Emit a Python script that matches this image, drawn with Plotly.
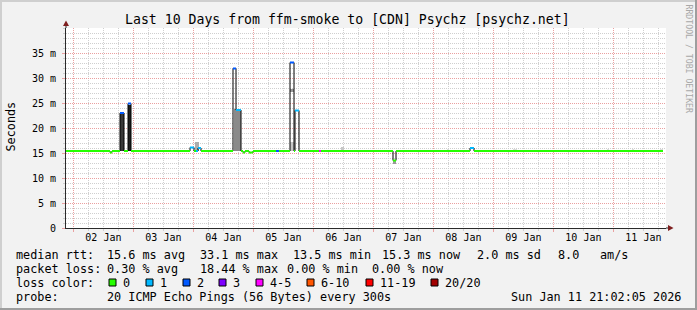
import plotly.graph_objects as go
import pandas as pd

# ---------------- data ----------------
loss_labels = ["0", "1", "2", "3", "4-5", "6-10", "11-19", "20/20"]
loss_colors = ["#26ff00", "#00b8ff", "#0059ff", "#7e00ff", "#ff00ff", "#ff5500", "#ff0000", "#a10000"]

# median RTT as steps: start time, value (ms), loss class index
med_time = ["2026-01-01 21:02", "2026-01-02 14:38", "2026-01-02 15:26", "2026-01-02 18:38",
            "2026-01-02 20:14", "2026-01-02 21:50", "2026-01-02 23:02", "2026-01-03 22:38",
            "2026-01-04 00:14", "2026-01-04 01:02", "2026-01-04 01:50", "2026-01-04 03:02",
            "2026-01-04 15:50", "2026-01-04 17:02", "2026-01-04 19:02", "2026-01-04 19:50",
            "2026-01-04 20:38", "2026-01-04 22:14", "2026-01-04 23:50", "2026-01-05 09:02",
            "2026-01-05 10:14", "2026-01-05 14:38", "2026-01-05 16:14", "2026-01-05 16:38",
            "2026-01-05 18:14", "2026-01-06 02:14", "2026-01-06 03:02", "2026-01-07 07:50",
            "2026-01-07 09:02", "2026-01-08 14:38", "2026-01-08 16:14"]
med_ms = [15.4, 15.1, 15.4, 23.0,
          15.4, 24.9, 15.4, 16.1,
          15.4, 15.4, 16.0, 15.4,
          31.9, 23.6, 15.4, 15.1,
          15.4, 15.1, 15.4, 15.4,
          15.4, 33.1, 15.4, 23.5,
          15.4, 15.4, 15.4, 13.5,
          15.4, 16.0, 15.4]
med_loss = [0, 0, 0, 2,
            0, 2, 0, 1,
            0, 1, 1, 0,
            2, 1, 0, 0,
            0, 0, 0, 2,
            0, 2, 0, 1,
            0, 4, 0, 0,
            0, 1, 0]
med_end = "2026-01-11 19:50"

# smoke (spread of individual pings)
smoke_start = ["2026-01-02 18:38", "2026-01-02 21:50", "2026-01-04 00:38", "2026-01-04 16:14",
               "2026-01-05 14:38", "2026-01-05 14:38", "2026-01-06 11:02", "2026-01-07 07:50",
               "2026-01-08 05:26", "2026-01-09 07:50", "2026-01-10 21:26", "2026-01-11 07:26",
               "2026-01-11 18:38"]
smoke_end = ["2026-01-02 20:14", "2026-01-02 23:02", "2026-01-04 02:14", "2026-01-04 19:02",
             "2026-01-05 16:14", "2026-01-05 16:14", "2026-01-06 12:14", "2026-01-07 09:02",
             "2026-01-08 06:14", "2026-01-09 09:26", "2026-01-10 22:14", "2026-01-11 08:14",
             "2026-01-11 19:50"]
smoke_lo = [15.4, 15.4, 15.4, 15.4, 15.4, 27.3, 15.4, 12.9, 15.4, 15.4, 15.4, 15.4, 15.4]
smoke_hi = [22.8, 24.6, 17.3, 23.9, 17.2, 27.8, 16.3, 13.6, 15.9, 15.9, 15.9, 15.9, 15.9]
smoke_density = [0.78, 0.88, 0.32, 0.46, 0.22, 0.4, 0.22, 0.4, 0.14, 0.14, 0.14, 0.14, 0.14]

ytick_ms = [0, 5, 10, 15, 20, 25, 30, 35]

x_start = "2026-01-01 21:02:05"
x_stop = "2026-01-11 21:02:05"

title = "Last 10 Days from ffm-smoke to [CDN] Psychz [psychz.net]"
row_rtt = ["median rtt:", "15.6 ms avg", "33.1 ms max", "13.5 ms min", "15.3 ms now", "2.0 ms sd", "8.0", "am/s"]
row_loss = ["packet loss:", "0.30 % avg", "18.44 % max", "0.00 % min", "0.00 % now"]
row_probe = ["probe:", "20 ICMP Echo Pings (56 Bytes) every 300s"]
stamp = "Sun Jan 11 21:02:05 2026"

# ---------------- layout helpers ----------------
L, T, W, H = 66, 28, 600, 200
FIG_W, FIG_H = 697, 310
def xp(px):
    return (px - L) / W
def yp(py):
    return (T + H - py) / H

MONO = "DejaVu Sans Mono"
GRID = "#cfcfcf"
MGRID = "#eaa0a0"
AXIS = "#2a2a2a"
ARROW = "#7f1f1f"

fig = go.Figure()

# smoke
s0 = pd.to_datetime(smoke_start)
s1 = pd.to_datetime(smoke_end)
centers = s0 + (s1 - s0) / 2
widths = [(b - a).total_seconds() * 1000 for a, b in zip(s0, s1)]
def gray(d):
    v = int(round(255 * (1 - d)))
    return f"rgb({v},{v},{v})"
fig.add_trace(go.Bar(
    x=centers, y=[h - l for l, h in zip(smoke_lo, smoke_hi)], base=smoke_lo,
    width=widths, marker=dict(color=[gray(d) for d in smoke_density], line=dict(width=0)),
    hoverinfo="skip", showlegend=False))

# black median step line (vertical transitions)
mt = pd.to_datetime(med_time + [med_end])
fig.add_trace(go.Scatter(
    x=mt, y=med_ms + [med_ms[-1]], mode="lines", line=dict(shape="hv", color="#000000", width=1),
    hoverinfo="skip", showlegend=False))

# loss-coloured median segments
for c in range(len(loss_colors)):
    xs, ys = [], []
    for i in range(len(med_ms)):
        if med_loss[i] == c:
            xs += [mt[i], mt[i + 1], None]
            ys += [med_ms[i], med_ms[i], None]
    if xs:
        fig.add_trace(go.Scatter(x=xs, y=ys, mode="lines",
                                 line=dict(color=loss_colors[c], width=2),
                                 hoverinfo="skip", showlegend=False))

shapes = []
# frame shading
shapes.append(dict(type="rect", xref="paper", yref="paper", x0=xp(0), x1=xp(FIG_W), y0=yp(2), y1=yp(0),
                   fillcolor="#cfcfcf", line=dict(width=0), layer="above"))
shapes.append(dict(type="rect", xref="paper", yref="paper", x0=xp(0), x1=xp(2), y0=yp(FIG_H), y1=yp(0),
                   fillcolor="#cfcfcf", line=dict(width=0), layer="above"))
shapes.append(dict(type="rect", xref="paper", yref="paper", x0=xp(0), x1=xp(FIG_W), y0=yp(FIG_H), y1=yp(FIG_H - 2),
                   fillcolor="#9e9e9e", line=dict(width=0), layer="above"))
shapes.append(dict(type="rect", xref="paper", yref="paper", x0=xp(FIG_W - 2), x1=xp(FIG_W), y0=yp(FIG_H), y1=yp(0),
                   fillcolor="#9e9e9e", line=dict(width=0), layer="above"))
# axis extensions and arrows
shapes.append(dict(type="line", xref="paper", yref="paper", x0=xp(66), x1=xp(66), y0=yp(28), y1=yp(23),
                   line=dict(color=AXIS, width=1)))
shapes.append(dict(type="line", xref="paper", yref="paper", x0=xp(666), x1=xp(670), y0=yp(228), y1=yp(228),
                   line=dict(color=AXIS, width=1)))
shapes.append(dict(type="path", xref="paper", yref="paper",
                   path=f"M {xp(66)},{yp(20.5)} L {xp(63)},{yp(26)} L {xp(69)},{yp(26)} Z",
                   fillcolor=ARROW, line=dict(width=0)))
shapes.append(dict(type="path", xref="paper", yref="paper",
                   path=f"M {xp(673.5)},{yp(228)} L {xp(668)},{yp(225)} L {xp(668)},{yp(231)} Z",
                   fillcolor=ARROW, line=dict(width=0)))

annotations = []
def txt(s, px, py, size=11.8, anchor="left", color="#000000", angle=0):
    annotations.append(dict(text=s.replace(" ", "\u00a0"), x=xp(px), y=yp(py), xref="paper", yref="paper",
                            xanchor=anchor, yanchor="middle", showarrow=False, textangle=angle,
                            borderpad=0, borderwidth=0,
                            font=dict(family=MONO, size=size, color=color)))

txt(title, 347.5, 19.5, size=13.2, anchor="center")
txt("Seconds", 10.5, 127, angle=-90, anchor="center")
txt("RRDTOOL / TOBI OETIKER", 688.5, 59, size=8.2, anchor="center", color="#a8a8a8", angle=90)

rtt_x = [16, 107, 200, 293, 382, 477, 558, 600]
for s, x in zip(row_rtt, rtt_x):
    txt(s, x, 254.5)
loss_x = [16, 107, 200, 287, 372]
for s, x in zip(row_loss, loss_x):
    txt(s, x, 268.5)
txt("loss color:", 16, 282.5)
box_x = [109, 146, 183, 219, 256, 307, 366, 431]
for lbl, col, bx in zip(loss_labels, loss_colors, box_x):
    shapes.append(dict(type="rect", xref="paper", yref="paper", x0=xp(bx), x1=xp(bx + 7),
                       y0=yp(286), y1=yp(279), fillcolor=col, line=dict(color="#000000", width=1)))
    txt(lbl, bx + 14, 282.5)
txt(row_probe[0], 16, 296.5)
txt(row_probe[1], 107, 296.5)
txt(stamp, 681, 296.5, anchor="right")

fig.update_layout(
    width=FIG_W, height=FIG_H,
    margin=dict(l=L, r=FIG_W - L - W, t=T, b=FIG_H - T - H, pad=0),
    paper_bgcolor="#f2f2f2", plot_bgcolor="#ffffff",
    barmode="overlay", bargap=0, showlegend=False, hovermode=False,
    shapes=shapes, annotations=annotations,
    xaxis=dict(type="date", range=[x_start, x_stop], dtick=86400000, tick0="2026-01-02 00:00",
               ticklabelmode="period", tickformat="%d %b",
               showgrid=True, gridcolor=MGRID, griddash="1px,1px", gridwidth=1,
               ticks="outside", ticklen=3, tickcolor=MGRID, tickwidth=1,
               minor=dict(dtick=21600000, tick0="2026-01-02 00:00", showgrid=True, gridcolor=GRID,
                          griddash="1px,1px", gridwidth=1, ticks="outside", ticklen=2, tickcolor=GRID),
               showline=True, linecolor=AXIS, linewidth=1, zeroline=False, fixedrange=True,
               ticklabelstandoff=-3,
               tickfont=dict(family=MONO, size=10, color="#000000")),
    yaxis=dict(range=[0, 40], tickmode="array", tickvals=ytick_ms,
               ticktext=["0" if v == 0 else f"{v} m" for v in ytick_ms],
               showgrid=True, gridcolor=MGRID, griddash="1px,1px", gridwidth=1,
               ticks="outside", ticklen=3, tickcolor=MGRID, tickwidth=1,
               minor=dict(tickmode="linear", tick0=0, dtick=1, showgrid=True, gridcolor=GRID,
                          griddash="1px,1px", gridwidth=1, ticks="outside", ticklen=2, tickcolor=GRID),
               showline=True, linecolor=AXIS, linewidth=1, zeroline=False, fixedrange=True,
               ticklabelstandoff=4,
               tickfont=dict(family=MONO, size=10, color="#000000")),
)

fig.write_html("out.html", config={"staticPlot": True})
